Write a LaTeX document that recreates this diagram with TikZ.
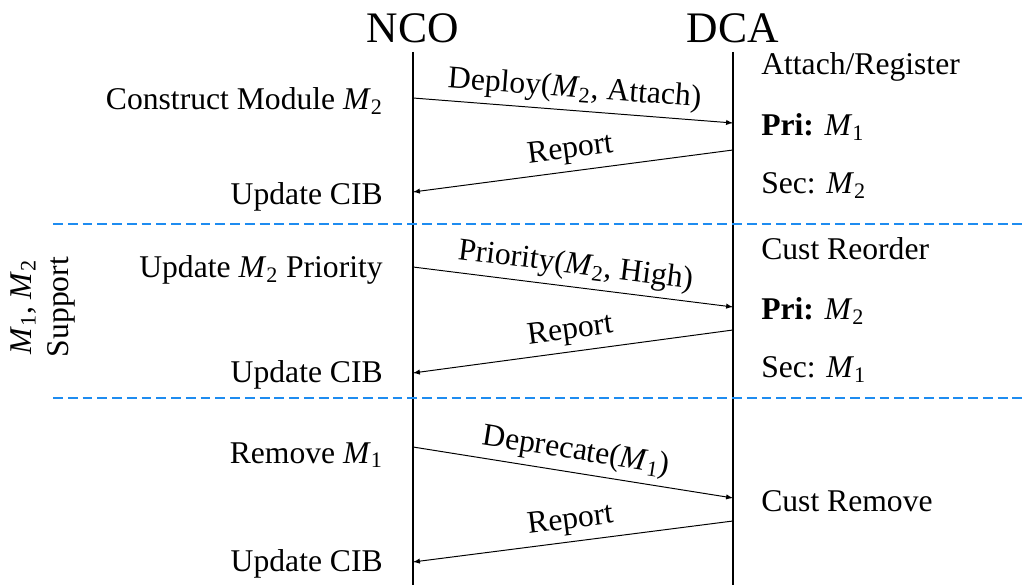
\documentclass[tikz,border=0pt]{standalone}
\usepackage{fontspec}
\setmainfont{LiberationSerif}[Extension=.ttf, UprightFont=*-Regular, BoldFont=*-Bold, ItalicFont=*-Italic, BoldItalicFont=*-BoldItalic]
\usepackage{tikz}
\usetikzlibrary{arrows,positioning,calc}
\usepackage{xcolor}
\definecolor{sepblue}{RGB}{30,140,240}
\newcommand{\modu}[1]{\textit{M}\textsubscript{#1}}
\tikzset{
  txt/.style={inner sep=0pt, font=\fontsize{22.5}{27}\selectfont},
  head/.style={inner sep=0pt, font=\fontsize{31}{36}\selectfont},
  lifeline/.style={line width=1.4pt},
  msg/.style={-latex, line width=0.7pt},
  msglbl/.style={midway, sloped, above=1pt, font=\fontsize{22.5}{27}\selectfont},
  divider/.style={dash pattern=on 7pt off 3.5pt, line width=1.6pt, color=sepblue}
}

\begin{document}
\begin{tikzpicture}
\useasboundingbox (0,0) rectangle (25.65,14.625);

% lifelines
\node[head, anchor=base] (nco) at (10.325,13.55) {NCO};
\node[head, anchor=base] (dca) at (18.325,13.55) {DCA};
\coordinate (ncotop) at (10.325,13.325);
\coordinate (ncobot) at (10.325,0);
\coordinate (dcatop) at (18.325,13.325);
\coordinate (dcabot) at (18.325,0);
\draw[lifeline] (ncotop) -- (ncobot);
\draw[lifeline] (dcatop) -- (dcabot);

% message ends
\coordinate (n1) at (10.325,12.175); \coordinate (d1) at (18.325,11.55);
\coordinate (d2) at (18.325,10.875); \coordinate (n2) at (10.325,9.825);
\coordinate (n3) at (10.325,7.95);   \coordinate (d3) at (18.325,6.95);
\coordinate (d4) at (18.325,6.375);  \coordinate (n4) at (10.325,5.3);
\coordinate (n5) at (10.325,3.45);   \coordinate (d5) at (18.325,2.175);
\coordinate (d6) at (18.325,1.6);    \coordinate (n6) at (10.325,0.575);

\draw[msg] (n1) -- (d1) node[msglbl] (deploy) {Deploy(\modu{2}, Attach)};
\draw[msg] (d2) -- (n2) node[msglbl] (rep1) {Report};
\draw[msg] (n3) -- (d3) node[msglbl] (prio) {Priority(\modu{2}, High)};
\draw[msg] (d4) -- (n4) node[msglbl] (rep2) {Report};
\draw[msg] (n5) -- (d5) node[msglbl] (depr) {Deprecate(\modu{1})};
\draw[msg] (d6) -- (n6) node[msglbl] (rep3) {Report};

% phase dividers
\coordinate (div1a) at (1.325,9.025);  \coordinate (div1b) at (25.65,9.025);
\coordinate (div2a) at (1.325,4.675);  \coordinate (div2b) at (25.65,4.675);
\draw[divider] (div1a) -- (div1b);
\draw[divider] (div2a) -- (div2b);

% NCO side
\node[txt, anchor=base east] (construct) at (9.575,11.875) {Construct Module \modu{2}};
\node[txt, anchor=base east] (cib1) at (9.575,9.5) {Update CIB};
\node[txt, anchor=base east] (upprio) at (9.575,7.675) {Update \modu{2} Priority};
\node[txt, anchor=base east] (cib2) at (9.575,5.075) {Update CIB};
\node[txt, anchor=base east] (remove) at (9.575,3.05) {Remove \modu{1}};
\node[txt, anchor=base east] (cib3) at (9.575,0.35) {Update CIB};

% DCA side
\node[txt, anchor=base west] (attach) at (19.025,12.75) {Attach/Register};
\node[txt, anchor=base west] (pri1) at (19.025,11.225) {\textbf{Pri:} \modu{1}};
\node[txt, anchor=base west] (sec1) at (19.025,9.775) {Sec: \modu{2}};
\node[txt, anchor=base west] (reorder) at (19.025,8.125) {Cust Reorder};
\node[txt, anchor=base west] (pri2) at (19.025,6.625) {\textbf{Pri:} \modu{2}};
\node[txt, anchor=base west] (sec2) at (19.025,5.175) {Sec: \modu{1}};
\node[txt, anchor=base west] (custrm) at (19.025,1.85) {Cust Remove};

% phase label
\node[txt, rotate=90, align=center] (support) at (1.075,6.95) {\modu{1}, \modu{2}\\Support};
\end{tikzpicture}
\end{document}
